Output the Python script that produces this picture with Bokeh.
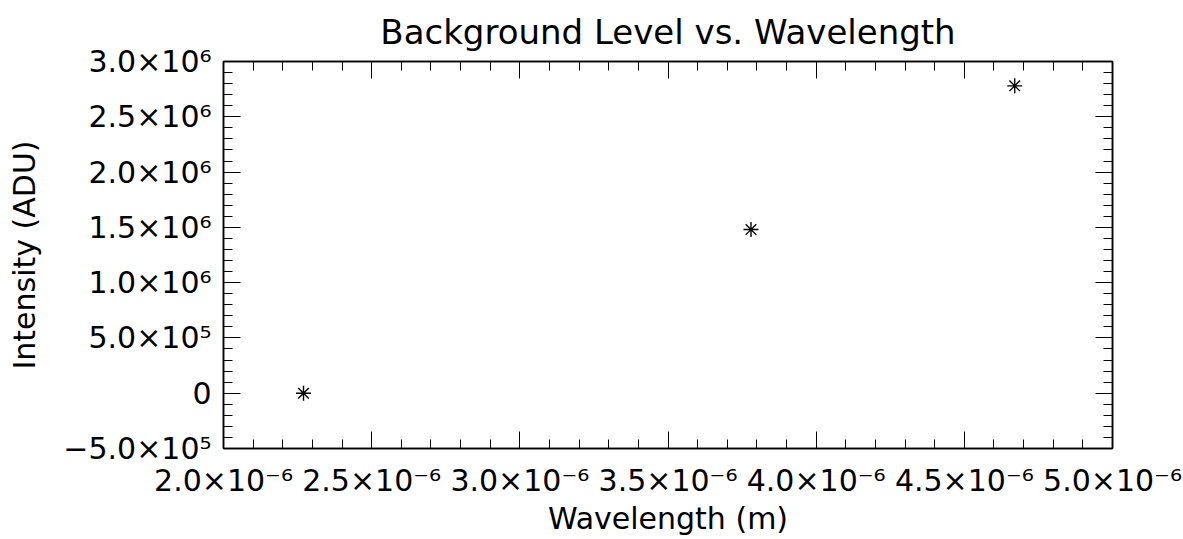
from bokeh.plotting import figure
from bokeh.models import LinearAxis, FixedTicker, Range1d, CustomJSTickFormatter
from bokeh.embed import file_html
from bokeh.resources import INLINE

# data
wavelength_m = [2.27e-6, 3.78e-6, 4.67e-6]
intensity_adu = [0.0, 1.48e6, 2.78e6]

x_ticks = [2.0e-6, 2.5e-6, 3.0e-6, 3.5e-6, 4.0e-6, 4.5e-6, 5.0e-6]
x_tick_labels = ["2.0×10⁻⁶", "2.5×10⁻⁶", "3.0×10⁻⁶", "3.5×10⁻⁶",
                 "4.0×10⁻⁶", "4.5×10⁻⁶", "5.0×10⁻⁶"]
x_minor = [2.0e-6 + i * 0.1e-6 for i in range(31)]
y_ticks = [-5.0e5, 0.0, 5.0e5, 1.0e6, 1.5e6, 2.0e6, 2.5e6, 3.0e6]
y_tick_labels = ["−5.0×10⁵", "0", "5.0×10⁵", "1.0×10⁶", "1.5×10⁶",
                 "2.0×10⁶", "2.5×10⁶", "3.0×10⁶"]
y_minor = [-5.0e5 + i * 1.0e5 for i in range(36)]

FONT = "DejaVu Sans"

p = figure(width=1183, height=539, output_backend="svg", toolbar_location=None,
           x_range=Range1d(2.0e-6, 5.0e-6), y_range=Range1d(-5.0e5, 3.0e6),
           title="Background Level vs. Wavelength",
           min_border_left=223, min_border_right=71, min_border_top=61,
           min_border_bottom=91)
p.grid.visible = False
p.outline_line_color = "black"
p.outline_line_width = 1.5
p.background_fill_color = "white"
p.border_fill_color = "white"

p.title.align = "center"
p.title.text_font = FONT
p.title.text_font_size = "34px"
p.title.text_font_style = "normal"
p.title.text_color = "black"
p.title.standoff = 19

p.scatter(wavelength_m, intensity_adu, marker="asterisk", size=15,
          line_color="black", line_width=1.4)

xt = FixedTicker(ticks=x_ticks, minor_ticks=x_minor)
yt = FixedTicker(ticks=y_ticks, minor_ticks=y_minor)

def style(ax, ticker, labels, ticks, show):
    ax.ticker = ticker
    ax.axis_line_color = "black"
    ax.axis_line_width = 1.5
    ax.major_tick_in = 17
    ax.major_tick_out = 0
    ax.minor_tick_in = 9
    ax.minor_tick_out = 0
    ax.major_tick_line_color = "black"
    ax.minor_tick_line_color = "black"
    ax.major_label_text_font = FONT
    ax.major_label_text_color = "black"
    ax.axis_label_text_font = FONT
    ax.axis_label_text_font_style = "normal"
    ax.axis_label_text_color = "black"
    if show:
        ax.major_label_overrides = dict(zip(ticks, labels))
        ax.major_label_text_font_size = "30px"
        ax.axis_label_text_font_size = "30px"
    else:
        ax.formatter = CustomJSTickFormatter(code="return '';")
        ax.major_label_standoff = 0

xa = p.xaxis[0]
style(xa, xt, x_tick_labels, x_ticks, True)
xa.axis_label = "Wavelength (m)"
xa.major_label_standoff = 14
xa.axis_label_standoff = 0

ya = p.yaxis[0]
style(ya, yt, y_tick_labels, y_ticks, True)
ya.axis_label = "Intensity (ADU)"
ya.major_label_standoff = 12
ya.axis_label_standoff = 18
ya.major_label_orientation = "horizontal"

top = LinearAxis()
style(top, xt, x_tick_labels, x_ticks, False)
p.add_layout(top, "above")
right = LinearAxis()
style(right, yt, y_tick_labels, y_ticks, False)
p.add_layout(right, "right")

open("out.html", "w").write(file_html(p, INLINE))
